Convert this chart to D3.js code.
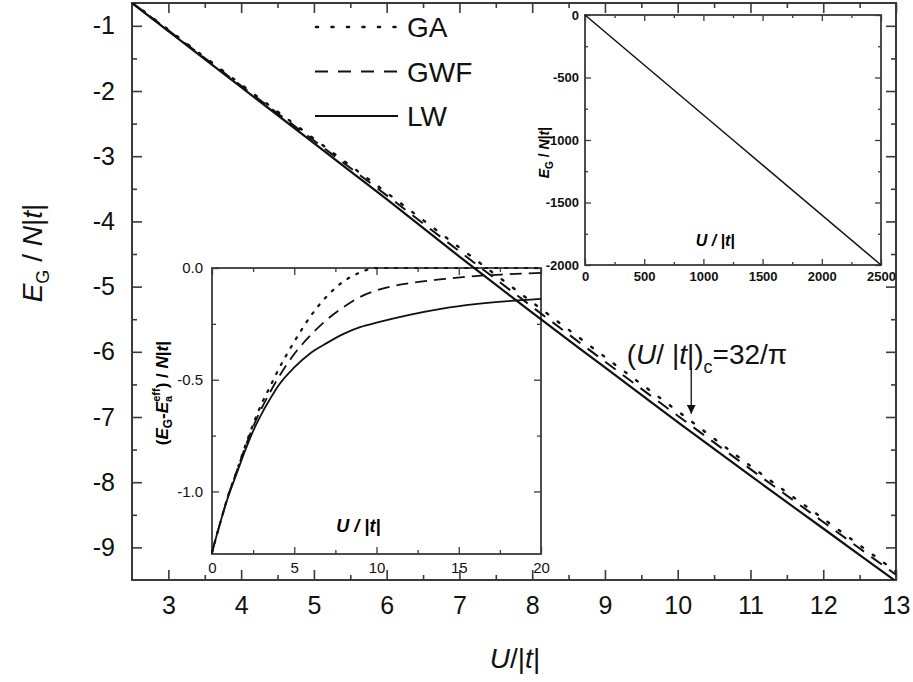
<!DOCTYPE html>
<html><head><meta charset="utf-8">
<script src="https://cdn.jsdelivr.net/npm/d3@7"></script>
<style>body{margin:0;background:#fff;} text{font-family:Arial,"Liberation Sans",sans-serif;}</style>
</head><body>
<svg id="c" width="913" height="682"></svg>
<script>
// ---------- data ----------
const mainU   = [2.5, 3, 4, 5, 6, 7, 8, 9, 10, 11, 12, 13];
const mainLW  = [-0.65, -1.08, -1.94, -2.80, -3.66, -4.54, -5.40, -6.24, -7.08, -7.90, -8.71, -9.52];
const mainGWF = [-0.645, -1.07, -1.92, -2.76, -3.60, -4.46, -5.31, -6.15, -6.98, -7.80, -8.61, -9.42];
const mainGA  = [-0.64, -1.06, -1.90, -2.73, -3.56, -4.40, -5.24, -6.08, -6.91, -7.75, -8.56, -9.37];
const mainXTicks = [3,4,5,6,7,8,9,10,11,12,13];
const mainYTicks = [-1,-2,-3,-4,-5,-6,-7,-8,-9];

const inU   = [0, 0.5, 1, 1.5, 2, 2.5, 3, 3.5, 4, 5, 6, 7, 8, 9, 10, 12, 14, 16, 18, 20];
const inLW  = [-1.273,-1.14,-1.02,-0.92,-0.82,-0.73,-0.655,-0.59,-0.53,-0.445,-0.38,-0.335,-0.295,-0.265,-0.245,-0.21,-0.182,-0.162,-0.148,-0.138];
const inGWF = [-1.273,-1.14,-1.015,-0.91,-0.805,-0.71,-0.63,-0.56,-0.495,-0.385,-0.30,-0.23,-0.175,-0.13,-0.10,-0.068,-0.05,-0.036,-0.028,-0.022];
const inGA  = [-1.273,-1.14,-1.015,-0.91,-0.80,-0.70,-0.61,-0.535,-0.46,-0.33,-0.215,-0.125,-0.06,-0.02,0,0,0,0,0,0];
const inXTicks = [0,5,10,15,20];
const inYTicks = [0,-0.5,-1.0];

const bigU = [0, 1250, 2500];
const bigE = [0, -1000, -2000];
const bigXTicks = [0,500,1000,1500,2000,2500];
const bigYTicks = [0,-500,-1000,-1500,-2000];

const Uc = 32/Math.PI;

// ---------- drawing ----------
const svg = d3.select("#c");
const axisCol = "#3a3a3a";
const hy = f => d => f(d).replace("\u2212","-");

function frame(g, x, y, opt){
  const [x0,x1] = x.range(), [y0,y1] = y.range();
  const mk = (axis, tr, vals, size, labels, pad, fs, fw, fmt) => {
    const a = axis.tickValues(vals).tickSize(size).tickPadding(pad);
    if(!labels) a.tickFormat("");
    else a.tickFormat(fmt);
    const ag = g.append("g").attr("transform", tr).call(a);
    ag.select(".domain").remove();
    ag.selectAll("line").attr("stroke", axisCol).attr("stroke-width", opt.tw);
    ag.selectAll("text").attr("font-size", fs).attr("font-weight", fw||"normal").attr("fill","#111");
    return ag;
  };
  mk(d3.axisBottom(x), `translate(0,${y0})`, opt.xMaj, -opt.maj, true, opt.xPad, opt.fs, opt.fw, opt.xfmt);
  mk(d3.axisTop(x), `translate(0,${y1})`, opt.xMaj, -opt.maj, false, 0);
  mk(d3.axisLeft(y), `translate(${x0},0)`, opt.yMaj, -opt.maj, true, opt.yPad, opt.fs, opt.fw, opt.yfmt);
  mk(d3.axisRight(y), `translate(${x1},0)`, opt.yMaj, -opt.maj, false, 0);
  mk(d3.axisBottom(x), `translate(0,${y0})`, opt.xMin, -opt.min, false, 0);
  mk(d3.axisTop(x), `translate(0,${y1})`, opt.xMin, -opt.min, false, 0);
  mk(d3.axisLeft(y), `translate(${x0},0)`, opt.yMin, -opt.min, false, 0);
  mk(d3.axisRight(y), `translate(${x1},0)`, opt.yMin, -opt.min, false, 0);
  g.append("rect").attr("x",x0).attr("y",y1).attr("width",x1-x0).attr("height",y0-y1)
    .attr("fill","none").attr("stroke",axisCol).attr("stroke-width",opt.fw2);
}

// ---- main plot ----
const x = d3.scaleLinear().domain([2.5,13]).range([132,896]);
const y = d3.scaleLinear().domain([-9.5,-0.65]).range([580,3]);
const gm = svg.append("g");
frame(gm, x, y, {
  xMaj: mainXTicks, yMaj: mainYTicks,
  xMin: d3.range(3.5,13,1), yMin: d3.range(-1.5,-9.4,-1),
  maj: 10, min: 5, tw: 1.6, fw2: 2, xPad: 16, yPad: 17, fs: 25,
  xfmt: hy(d3.format("d")), yfmt: hy(d3.format("d"))
});

// ---- inset 1 (lower left) ----
const xi = d3.scaleLinear().domain([0,20]).range([212,541]);
const yi = d3.scaleLinear().domain([-1.28,0]).range([554,268]);
const gi = svg.append("g");
frame(gi, xi, yi, {
  xMaj: inXTicks, yMaj: inYTicks,
  xMin: [2.5,7.5,12.5,17.5], yMin: [-0.25,-0.75],
  maj: 7, min: 4, tw: 1.3, fw2: 1.8, xPad: 8, yPad: 9, fs: 15,
  xfmt: hy(d3.format("d")), yfmt: hy(d3.format(".1f"))
});
const lineI = d3.line().x((d,i)=>xi(inU[i])).y(d=>yi(d)).curve(d3.curveMonotoneX);
gi.append("path").attr("d", lineI(inLW)).attr("fill","none").attr("stroke","#111").attr("stroke-width",1.8);
gi.append("path").attr("d", lineI(inGWF)).attr("fill","none").attr("stroke","#111").attr("stroke-width",1.8).attr("stroke-dasharray","12,7");
gi.append("path").attr("d", lineI(inGA)).attr("fill","none").attr("stroke","#111").attr("stroke-width",2.2).attr("stroke-dasharray","2,8").attr("stroke-linecap","round");
gi.append("text").attr("x", xi(8.9)).attr("y", yi(-1.18)).attr("font-size",18).attr("font-weight","bold").attr("font-style","italic").attr("text-anchor","middle").text("U / |t|");
const tyi = gi.append("text").attr("transform",`translate(168,${yi(-0.56)}) rotate(-90)`).attr("font-size",17).attr("font-weight","bold").attr("text-anchor","middle");
tyi.append("tspan").text("(");
tyi.append("tspan").attr("font-style","italic").text("E");
tyi.append("tspan").attr("font-size",12).attr("dy",4).text("G");
tyi.append("tspan").attr("dy",-4).text("-");
tyi.append("tspan").attr("font-style","italic").text("E");
tyi.append("tspan").attr("font-size",11).attr("dy",4).text("a");
tyi.append("tspan").attr("font-size",11).attr("dy",-12).attr("dx",-6).text("eff");
tyi.append("tspan").attr("dy",8).text(") / ");
tyi.append("tspan").attr("font-style","italic").text("N");
tyi.append("tspan").text("|");
tyi.append("tspan").attr("font-style","italic").text("t");
tyi.append("tspan").text("|");

// ---- inset 2 (upper right) ----
const xb = d3.scaleLinear().domain([0,2500]).range([585,881]);
const yb = d3.scaleLinear().domain([-2000,0]).range([265,15]);
const gb = svg.append("g");
frame(gb, xb, yb, {
  xMaj: bigXTicks, yMaj: bigYTicks,
  xMin: [250,750,1250,1750,2250], yMin: [-250,-750,-1250,-1750],
  maj: 6, min: 3, tw: 1.3, fw2: 1.8, xPad: 7, yPad: 6, fs: 13, fw: "bold",
  xfmt: hy(d3.format("d")), yfmt: hy(d3.format("d"))
});
const lineB = d3.line().x((d,i)=>xb(bigU[i])).y(d=>yb(d));
gb.append("path").attr("d", lineB(bigE)).attr("fill","none").attr("stroke","#111").attr("stroke-width",1.5);
gb.append("text").attr("x", xb(1100)).attr("y", yb(-1850)).attr("font-size",16).attr("font-weight","bold").attr("font-style","italic").attr("text-anchor","middle").text("U / |t|");
const tyb = gb.append("text").attr("transform",`translate(549,${yb(-1100)}) rotate(-90)`).attr("font-size",14).attr("font-weight","bold").attr("text-anchor","middle");
tyb.append("tspan").attr("font-style","italic").text("E");
tyb.append("tspan").attr("font-size",10).attr("dy",4).text("G");
tyb.append("tspan").attr("dy",-4).text(" / ");
tyb.append("tspan").attr("font-style","italic").text("N");
tyb.append("tspan").text("|");
tyb.append("tspan").attr("font-style","italic").text("t");
tyb.append("tspan").text("|");

// ---- main curves (on top) ----
svg.append("clipPath").attr("id","mc").append("rect").attr("x",132).attr("y",3).attr("width",764).attr("height",577);
const lineM = d3.line().x((d,i)=>x(mainU[i])).y(d=>y(d)).curve(d3.curveMonotoneX);
const gl = svg.append("g").attr("clip-path","url(#mc)");
gl.append("path").attr("d", lineM(mainLW)).attr("fill","none").attr("stroke","#111").attr("stroke-width",2.2);
gl.append("path").attr("d", lineM(mainGWF)).attr("fill","none").attr("stroke","#111").attr("stroke-width",2).attr("stroke-dasharray","13,9");
gl.append("path").attr("d", lineM(mainGA)).attr("fill","none").attr("stroke","#111").attr("stroke-width",2.4).attr("stroke-dasharray","2,12").attr("stroke-linecap","round");

// ---- legend ----
const leg = [["GA","2,13.5",2.6],["GWF","13,10",2],["LW",null,2.2]];
leg.forEach((l,i)=>{
  const yy = 27 + i*44.5;
  const p = svg.append("line").attr("x1",315).attr("x2",398).attr("y1",yy).attr("y2",yy)
    .attr("stroke","#111").attr("stroke-width",l[2]);
  if(l[1]) p.attr("stroke-dasharray",l[1]);
  if(i===0) p.attr("stroke-linecap","round").attr("x1",316);
  svg.append("text").attr("x",407).attr("y",yy+10).attr("font-size",28).attr("fill","#111").text(l[0]);
});

// ---- axis titles ----
const xt = svg.append("text").attr("x",515).attr("y",668).attr("font-size",28).attr("text-anchor","middle").attr("fill","#111");
xt.append("tspan").attr("font-style","italic").text("U");
xt.append("tspan").text("/|");
xt.append("tspan").attr("font-style","italic").text("t");
xt.append("tspan").text("|");

const yt = svg.append("text").attr("transform","translate(42,253) rotate(-90)").attr("font-size",28).attr("text-anchor","middle").attr("fill","#111");
yt.append("tspan").attr("font-style","italic").text("E");
yt.append("tspan").attr("font-size",18).attr("dy",7).text("G");
yt.append("tspan").attr("dy",-7).text(" / ");
yt.append("tspan").attr("font-style","italic").text("N");
yt.append("tspan").text("|");
yt.append("tspan").attr("font-style","italic").text("t");
yt.append("tspan").text("|");

// ---- annotation ----
const an = svg.append("text").attr("x", x(9.3)).attr("y", y(-6.18)).attr("font-size",28).attr("fill","#111");
an.append("tspan").text("(");
an.append("tspan").attr("font-style","italic").text("U");
an.append("tspan").text("/ |");
an.append("tspan").attr("font-style","italic").text("t");
an.append("tspan").text("|)");
an.append("tspan").attr("font-size",18).attr("dy",9).text("c");
an.append("tspan").attr("dy",-9).text("=32/π");
svg.append("defs").append("marker").attr("id","ah").attr("viewBox","0 0 10 10").attr("refX",10).attr("refY",5)
  .attr("markerWidth",7).attr("markerHeight",7).attr("orient","auto")
  .append("path").attr("d","M0,0 L10,5 L0,10 z").attr("fill","#111");
svg.append("line").attr("x1",x(Uc)).attr("x2",x(Uc)).attr("y1",y(-6.25)).attr("y2",y(-6.95))
  .attr("stroke","#111").attr("stroke-width",1.3).attr("marker-end","url(#ah)");
</script>
</body></html>
